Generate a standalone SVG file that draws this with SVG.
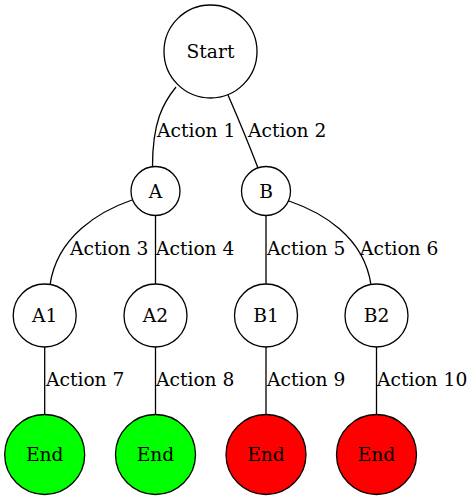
<svg xmlns="http://www.w3.org/2000/svg" width="474" height="500" viewBox="0 0 474 500">
<style>
.n{fill:#ffffff;stroke:#000;stroke-width:1.3}
.g{fill:#00ff00}
.r{fill:#ff0000}
.e{fill:none;stroke:#000;stroke-width:1.3}
text{font-family:"DejaVu Serif","Liberation Serif",serif;font-size:18.67px;fill:#000}
.c{text-anchor:middle}
</style>
<rect width="474" height="500" fill="#fff"/>
<g id="edges">
<path class="e" d="M176,87 C163,103 152.5,122 152.5,166.5"/>
<path class="e" d="M228,95 C238,118 248,142 258,168"/>
<path class="e" d="M132,200 C100,211 57,236 50,285"/>
<path class="e" d="M155.5,215.5 L155.5,284"/>
<path class="e" d="M266,215.5 L266,284"/>
<path class="e" d="M289,201 C321,212 364,236 371,285"/>
<path class="e" d="M44.7,347 L44.7,415"/>
<path class="e" d="M155.5,347 L155.5,415"/>
<path class="e" d="M266,347 L266,415"/>
<path class="e" d="M376.5,347 L376.5,415"/>
<text x="157" y="137">Action 1</text>
<text x="248" y="137">Action 2</text>
<text x="70" y="255">Action 3</text>
<text x="156" y="255">Action 4</text>
<text x="267" y="255">Action 5</text>
<text x="360" y="255">Action 6</text>
<text x="46" y="386">Action 7</text>
<text x="156" y="386">Action 8</text>
<text x="267" y="386">Action 9</text>
<text x="377" y="386">Action 10</text>
</g>
<g id="start"><circle class="n" cx="210.5" cy="51.5" r="46.5"/><text class="c" x="210.5" y="57.5">Start</text></g>
<g id="A"><circle class="n" cx="155.5" cy="191" r="24.5"/><text class="c" x="155.5" y="197.5">A</text></g>
<g id="B"><circle class="n" cx="266" cy="191" r="24.5"/><text class="c" x="266" y="197.5">B</text></g>
<g id="A1"><circle class="n" cx="44.7" cy="315.5" r="31.5"/><text class="c" x="44.7" y="322">A1</text></g>
<g id="A2"><circle class="n" cx="155.5" cy="315.5" r="31.5"/><text class="c" x="155.5" y="322">A2</text></g>
<g id="B1"><circle class="n" cx="266" cy="315.5" r="31.5"/><text class="c" x="266" y="322">B1</text></g>
<g id="B2"><circle class="n" cx="376.5" cy="315.5" r="31.5"/><text class="c" x="376.5" y="322">B2</text></g>
<g id="end1"><circle class="n g" cx="44.7" cy="454.5" r="40"/><text class="c" x="44.7" y="460.5">End</text></g>
<g id="end2"><circle class="n g" cx="155.5" cy="454.5" r="40"/><text class="c" x="155.5" y="460.5">End</text></g>
<g id="end3"><circle class="n r" cx="266" cy="454.5" r="40"/><text class="c" x="266" y="460.5">End</text></g>
<g id="end4"><circle class="n r" cx="376.5" cy="454.5" r="40"/><text class="c" x="376.5" y="460.5">End</text></g>
</svg>
